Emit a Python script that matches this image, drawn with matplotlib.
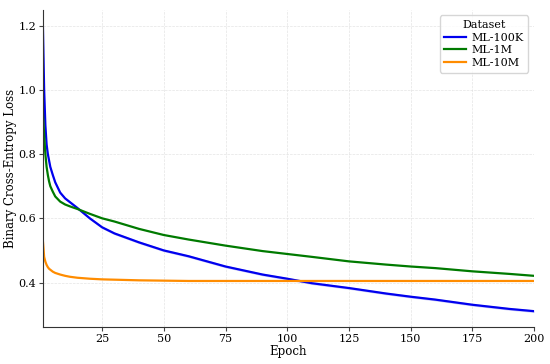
import matplotlib
matplotlib.use('Agg')
import matplotlib.pyplot as plt
import numpy as np

epochs = [1, 1.5, 2, 2.5, 3, 3.5, 4, 5, 6, 8, 10, 12, 15, 20, 25, 30, 40, 50,
          60, 75, 90, 100, 110, 125, 140, 150, 160, 175, 190, 200]

# mean loss per dataset
ml_100k = [1.20, 1.00, 0.89, 0.83, 0.80, 0.78, 0.76, 0.735, 0.712, 0.680, 0.662,
           0.650, 0.632, 0.600, 0.572, 0.553, 0.525, 0.500, 0.482, 0.450, 0.425,
           0.412, 0.398, 0.383, 0.366, 0.356, 0.347, 0.331, 0.318, 0.311]
ml_1m = [0.93, 0.86, 0.80, 0.76, 0.735, 0.715, 0.70, 0.683, 0.668, 0.652, 0.643,
         0.637, 0.629, 0.614, 0.600, 0.590, 0.567, 0.548, 0.534, 0.515, 0.498,
         0.489, 0.480, 0.466, 0.456, 0.450, 0.445, 0.435, 0.427, 0.421]
ml_10m = [0.53, 0.48, 0.465, 0.455, 0.448, 0.443, 0.440, 0.434, 0.430, 0.425, 0.421,
          0.418, 0.415, 0.412, 0.410, 0.409, 0.407, 0.406, 0.405, 0.405, 0.405,
          0.405, 0.405, 0.405, 0.405, 0.405, 0.405, 0.405, 0.405, 0.405]
# spread across runs for ML-100K (the others are too thin to see)
ml_100k_std = [0.004] * len(epochs)

labels = ['ML-100K', 'ML-1M', 'ML-10M']
colors = ['#0000ee', '#007a00', '#ff8c00']

plt.rcParams['font.family'] = ['DejaVu Serif']

fig = plt.figure(figsize=(5.5, 3.64), dpi=100)
ax = fig.add_axes([0.078, 0.102, 0.893, 0.871])

series = [ml_100k, ml_1m, ml_10m]
for vals, lab, col in zip(series, labels, colors):
    ax.plot(epochs, vals, color=col, lw=1.6, label=lab)

lo = np.array(ml_100k) - np.array(ml_100k_std)
hi = np.array(ml_100k) + np.array(ml_100k_std)
ax.fill_between(epochs, lo, hi, color=colors[0], alpha=0.2, lw=0)

ax.set_xlim(1, 200)
ax.set_xticks([25, 50, 75, 100, 125, 150, 175, 200])
ax.set_yticks([0.4, 0.6, 0.8, 1.0, 1.2])
ax.set_xlabel('Epoch', fontsize=8.5, labelpad=1)
ax.set_ylabel('Binary Cross-Entropy Loss', fontsize=8.5)
ax.yaxis.set_label_coords(-0.052, 0.5)
ax.tick_params(labelsize=8, color='#444444', length=3, width=0.8, pad=2)

ax.grid(True, ls='--', lw=0.5, color='#dddddd', alpha=0.8)
ax.spines['top'].set_visible(False)
ax.spines['right'].set_visible(False)
ax.spines['left'].set_color('#333333')
ax.spines['bottom'].set_color('#333333')

leg = ax.legend(title='Dataset', loc='upper right', fontsize=8,
                title_fontsize=8, handlelength=2.0, borderpad=0.4,
                labelspacing=0.25, handletextpad=0.5)

plt.savefig('out.png', dpi=100)
